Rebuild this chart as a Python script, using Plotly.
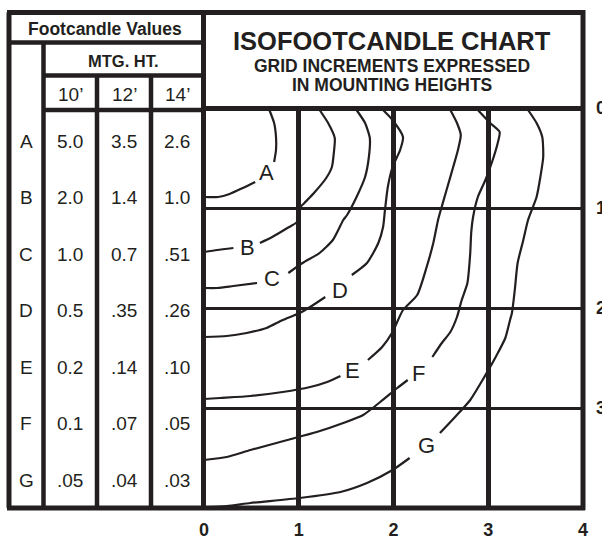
import plotly.graph_objects as go

INK = "#231f20"
FONT = "Liberation Sans, Arial, sans-serif"
W, H = 602, 542
ML, MR, MT, MB = 204, 19, 108, 34

# ---------------- data ----------------
row_letters = ["A", "B", "C", "D", "E", "F", "G"]
mtg_heights = ["10’", "12’", "14’"]
fc_10ft = ["5.0", "2.0", "1.0", "0.5", "0.2", "0.1", ".05"]
fc_12ft = ["3.5", "1.4", "0.7", ".35", ".14", ".07", ".04"]
fc_14ft = ["2.6", "1.0", ".51", ".26", ".10", ".05", ".03"]

x_tick_vals = [0, 1, 2, 3, 4]
x_tick_text = ["0", "1", "2", "3", "4"]
y_tick_vals = [0, 1, 2, 3]
y_tick_text = ["0", "1", "2", "3"]

# isofootcandle curves (grid units = mounting heights); None = gap for the label
curve_A_x = [0.69, 0.74, 0.76, 0.76, 0.74, None, 0.54, 0.41, 0.27, 0.15, 0.0]
curve_A_y = [0.02, 0.15, 0.29, 0.42, 0.54, None, 0.74, 0.80, 0.86, 0.89, 0.89]

curve_B_x = [1.22, 1.31, 1.38, 1.37, 1.35, 1.29, 1.17, 1.06, 1.01, 0.98, 0.88, 0.72, 0.59, None, 0.31, 0.14, 0.0]
curve_B_y = [0.02, 0.15, 0.30, 0.45, 0.59, 0.70, 0.84, 0.95, 1.00, 1.14, 1.20, 1.29, 1.35, None, 1.40, 1.42, 1.44]

curve_C_x = [1.61, 1.70, 1.75, 1.74, 1.70, 1.61, 1.51, 1.47, 1.36, 1.22, 1.04, 0.89, None, 0.56, 0.31, 0.14, 0.0]
curve_C_y = [0.02, 0.15, 0.30, 0.49, 0.69, 0.89, 1.07, 1.12, 1.32, 1.45, 1.55, 1.65, None, 1.75, 1.78, 1.80, 1.80]

curve_D_x = [1.89, 1.99, 2.10, 2.07, 1.99, 1.94, 1.91, 1.89, 1.84, 1.72, 1.56, None, 1.28, 1.12, 1.01, 0.83, 0.66, 0.45, 0.24, 0.0]
curve_D_y = [0.02, 0.12, 0.29, 0.42, 0.59, 0.79, 1.02, 1.19, 1.35, 1.55, 1.67, None, 1.89, 1.99, 2.05, 2.12, 2.20, 2.25, 2.28, 2.29]

curve_E_x = [2.60, 2.67, 2.71, 2.68, 2.63, 2.56, 2.49, 2.47, 2.42, 2.35, 2.25, 2.10, 1.99, 1.88, 1.73, None, 1.44, 1.30, 1.12, 0.83, 0.49, 0.17, 0.0]
curve_E_y = [0.02, 0.15, 0.27, 0.42, 0.59, 0.82, 1.05, 1.12, 1.35, 1.59, 1.87, 2.02, 2.24, 2.39, 2.52, None, 2.68, 2.74, 2.79, 2.84, 2.88, 2.90, 2.91]

curve_F_x = [2.89, 3.02, 3.12, 3.10, 3.04, 2.97, 2.89, 2.84, 2.82, 2.81, 2.78, 2.72, 2.67, 2.60, 2.51, 2.41, None, 2.15, 2.04, 1.86, 1.68, 1.47, 1.19, 0.88, 0.49, 0.24, 0.0]
curve_F_y = [0.02, 0.15, 0.24, 0.35, 0.54, 0.72, 0.89, 1.09, 1.25, 1.45, 1.75, 1.92, 2.09, 2.24, 2.35, 2.49, None, 2.72, 2.80, 2.94, 3.07, 3.15, 3.24, 3.32, 3.42, 3.49, 3.52]

curve_G_x = [3.42, 3.51, 3.57, 3.58, 3.55, 3.51, 3.42, 3.37, 3.31, 3.28, 3.25, 3.23, 3.18, 3.09, 3.02, 2.94, 2.81, 2.65, 2.49, None, 2.17, 1.99, 1.72, 1.44, 1.01, 0.49, 0.24, 0.04]
curve_G_y = [0.02, 0.15, 0.29, 0.49, 0.69, 0.89, 1.12, 1.32, 1.55, 1.82, 2.05, 2.12, 2.30, 2.47, 2.59, 2.72, 2.92, 3.09, 3.25, None, 3.50, 3.62, 3.75, 3.84, 3.90, 3.95, 3.98, 3.99]

curve_names = ["A", "B", "C", "D", "E", "F", "G"]
curves_x = [curve_A_x, curve_B_x, curve_C_x, curve_D_x, curve_E_x, curve_F_x, curve_G_x]
curves_y = [curve_A_y, curve_B_y, curve_C_y, curve_D_y, curve_E_y, curve_F_y, curve_G_y]
label_x = [0.66, 0.46, 0.72, 1.44, 1.57, 2.26, 2.35]
label_y = [0.64, 1.39, 1.70, 1.82, 2.62, 2.65, 3.37]

# ---------------- helpers (pixel -> paper) ----------------
PW = W - ML - MR
PH = H - MT - MB


def px(x):
    return (x - ML) / PW


def py(y):
    return (H - MB - y) / PH


def ptext(x, y, text, size, bold=False):
    return dict(x=px(x), y=py(y), xref="paper", yref="paper", xanchor="center", yanchor="middle",
                text=("<b>%s</b>" % text) if bold else text, showarrow=False,
                font=dict(family=FONT, size=size, color=INK))


fig = go.Figure()

for name, cx, cy in zip(curve_names, curves_x, curves_y):
    fig.add_trace(go.Scatter(
        x=cx, y=cy, mode="lines", name=name, showlegend=False,
        line=dict(color=INK, width=2.2, shape="spline", smoothing=0.6),
        connectgaps=False, hoverinfo="skip",
    ))

annotations = []
for name, lx, ly in zip(curve_names, label_x, label_y):
    annotations.append(dict(x=lx, y=ly, xref="x", yref="y", xanchor="center", yanchor="middle",
                            text=name, showarrow=False, font=dict(family=FONT, size=22, color=INK)))

# table texts
annotations.append(ptext(105, 29, "Footcandle Values", 17.5, bold=True))
annotations.append(ptext(123, 61, "MTG. HT.", 16.5, bold=True))
col_x = [70, 124, 177]
for cxp, t in zip(col_x, mtg_heights):
    annotations.append(ptext(cxp, 94, t, 19))
for i, letter in enumerate(row_letters):
    ry = 141 + 56.5 * i
    annotations.append(ptext(26, ry, letter, 19))
    for cxp, col in zip(col_x, [fc_10ft, fc_12ft, fc_14ft]):
        annotations.append(ptext(cxp, ry, col[i], 19))

# title box texts
annotations.append(ptext(392, 41, "ISOFOOTCANDLE CHART", 25.5, bold=True))
annotations.append(ptext(392, 66, "GRID INCREMENTS EXPRESSED", 17.5, bold=True))
annotations.append(ptext(392, 85, "IN MOUNTING HEIGHTS", 17.5, bold=True))

# frame lines (pixel positions)
frame = [
    (7, 12.5, 583, 12.5, 5),      # outer top
    (9, 12.5, 9, 508, 5),         # outer left
    (7, 508, 585, 508, 5),        # outer bottom
    (583, 10, 583, 510, 5),       # outer right
    (203.5, 10, 203.5, 510, 5),   # table / chart separator
    (203.5, 108.5, 583, 108.5, 5),  # title box bottom
    (9, 42.5, 203.5, 42.5, 4.5),  # under "Footcandle Values"
    (43.5, 75.5, 203.5, 75.5, 4.5),  # under "MTG. HT."
    (43.5, 110, 203.5, 110, 4.5),  # under column heads
    (43.5, 42.5, 43.5, 508, 4.5),  # letter column
    (97, 75.5, 97, 508, 4.5),
    (151, 75.5, 151, 508, 4.5),
]
shapes = []
for x0, y0, x1, y1, w in frame:
    shapes.append(dict(type="line", xref="paper", yref="paper", x0=px(x0), y0=py(y0), x1=px(x1), y1=py(y1),
                       line=dict(color=INK, width=w), layer="above"))

fig.update_layout(
    width=W, height=H, margin=dict(l=ML, r=MR, t=MT, b=MB, autoexpand=False),
    paper_bgcolor="white", plot_bgcolor="white",
    showlegend=False, annotations=annotations, shapes=shapes,
    xaxis=dict(range=[0, 4], tickvals=x_tick_vals, ticktext=["<b>%s</b>" % t for t in x_tick_text],
               showgrid=True, gridcolor=INK, gridwidth=4.5, zeroline=False, showline=False, automargin=False,
               ticks="", ticklabelstandoff=9, tickfont=dict(family=FONT, size=18, color=INK), fixedrange=True),
    yaxis=dict(range=[4, 0], tickvals=y_tick_vals, ticktext=["<b>%s</b>" % t for t in y_tick_text],
               side="right", showgrid=True, gridcolor=INK, gridwidth=2.5, zeroline=False, showline=False,
               automargin=False,
               ticks="", ticklabelstandoff=12, tickfont=dict(family=FONT, size=18, color=INK), fixedrange=True),
)

fig.write_html("out.html", config={"displayModeBar": False},
               post_script="document.body.style.margin='0';document.body.style.overflow='hidden';")
